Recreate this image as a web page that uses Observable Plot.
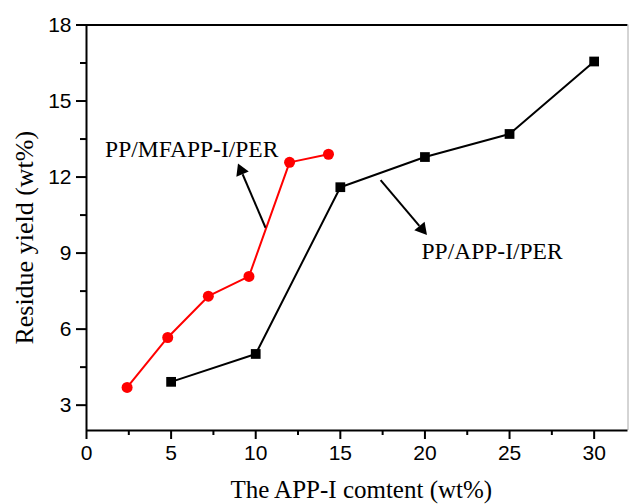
<!DOCTYPE html>
<html>
<head>
<meta charset="utf-8">
<script src="https://cdn.jsdelivr.net/npm/d3@7"></script>
<script src="https://cdn.jsdelivr.net/npm/@observablehq/plot@0.6"></script>
<style>
  html, body { margin: 0; padding: 0; background: #fff; }
  #chart svg { display: block; }
</style>
</head>
<body>
<div id="chart"></div>
<script>
// Series: PP/MFAPP-I/PER (red circles)
const mfContent = [2.4, 4.8, 7.2, 9.6, 12.0, 14.3];
const mfResidue = [3.7, 5.67, 7.3, 8.08, 12.58, 12.9];
// Series: PP/APP-I/PER (black squares)
const appContent = [5, 10, 15, 20, 25, 30];
const appResidue = [3.92, 5.02, 11.6, 12.79, 13.7, 16.56];

const seriesNames = ["PP/MFAPP-I/PER", "PP/APP-I/PER"];
// annotation arrows (data units): start -> tip
const arrowX1 = [10.58, 17.38];
const arrowY1 = [10.0, 11.88];
const arrowX2 = [8.97, 20.09];
const arrowY2 = [12.51, 9.74];
// label anchor points (data units)
const labelX = [1.1, 19.8];
const labelY = [13.1, 9.06];

const xTicks = [0, 5, 10, 15, 20, 25, 30];
const xMinor = [2.5, 7.5, 12.5, 17.5, 22.5, 27.5];
const yTicks = [3, 6, 9, 12, 15, 18];
const yMinor = [4.5, 7.5, 10.5, 13.5, 16.5];

const xTitle = "The APP-I comtent (wt%)";
const yTitle = "Residue yield (wt%)";

const W = 634, H = 504, mL = 86, mT = 24.5, mB = 74, mR = 6.5;
const xDomain = [0, 32], yDomain = [2, 18];
// pixels per data unit, used only to orient the arrowheads
const kx = (W - mL - mR) / (xDomain[1] - xDomain[0]);
const ky = (H - mT - mB) / (yDomain[1] - yDomain[0]);

const mf = mfContent.map((x, i) => ({x, y: mfResidue[i]}));
const app = appContent.map((x, i) => ({x, y: appResidue[i]}));
const headBack = 7; // px from tip to triangle centre
const arrows = arrowX1.map((x1, i) => {
  const x2 = arrowX2[i], y2 = arrowY2[i], y1 = arrowY1[i];
  const sx = (x2 - x1) * kx, sy = -(y2 - y1) * ky;
  const len = Math.hypot(sx, sy);
  const ux = sx / len, uy = sy / len;
  const hx = x2 - ux * headBack / kx, hy = y2 + uy * headBack / ky;
  const bx = x2 - ux * 11 / kx, by = y2 + uy * 11 / ky;
  return {x1, y1, x2, y2, hx, hy, bx, by, rot: Math.atan2(sx, -sy) * 180 / Math.PI};
});
const labels = seriesNames.map((t, i) => ({t, x: labelX[i], y: labelY[i]}));

const serif = "'Liberation Serif', 'Times New Roman', serif";
const sans = "'Liberation Sans', Arial, sans-serif";

const plot = Plot.plot({
  width: W,
  height: H,
  marginLeft: mL,
  marginTop: mT,
  marginBottom: mB,
  marginRight: mR,
  style: {fontFamily: sans, fontSize: "21px", color: "#000", background: "#fff"},
  x: {domain: xDomain},
  y: {domain: yDomain},
  marks: [
    // frame
    Plot.ruleY([18], {stroke: "#000", strokeWidth: 2}),
    Plot.ruleX([32], {stroke: "#aaa", strokeWidth: 1}),
    Plot.ruleX([0], {stroke: "#000", strokeWidth: 2}),
    Plot.ruleY([2], {stroke: "#000", strokeWidth: 2}),
    // axes
    Plot.axisX(xTicks, {tickSize: 9, tickPadding: 6, strokeWidth: 2, fontSize: 21, fontFamily: sans, label: null}),
    Plot.axisX(xMinor, {tickSize: 5, strokeWidth: 2, text: null, label: null}),
    Plot.axisY(yTicks, {tickSize: 10, tickPadding: 5, strokeWidth: 2, fontSize: 21, fontFamily: sans, label: null}),
    Plot.axisY(yMinor, {tickSize: 6, strokeWidth: 2, text: null, label: null}),
    // axis titles
    Plot.text([xTitle], {frameAnchor: "bottom", textAnchor: "middle", lineAnchor: "bottom", dy: 67, dx: 4, fontSize: 25, fontFamily: serif, fill: "#000"}),
    Plot.text([yTitle], {frameAnchor: "left", textAnchor: "middle", rotate: -90, dx: -62, dy: 10, fontSize: 26, fontFamily: serif, fill: "#000"}),
    // series
    Plot.line(mf, {x: "x", y: "y", stroke: "#ff0000", strokeWidth: 2}),
    Plot.dot(mf, {x: "x", y: "y", r: 5.5, fill: "#ff0000", stroke: "none"}),
    Plot.line(app, {x: "x", y: "y", stroke: "#000", strokeWidth: 2}),
    Plot.dot(app, {x: "x", y: "y", symbol: "square", r: 5.5, fill: "#000", stroke: "none"}),
    // annotations
    Plot.link(arrows, {x1: "x1", y1: "y1", x2: "bx", y2: "by", stroke: "#000", strokeWidth: 2}),
    Plot.dot(arrows, {x: "hx", y: "hy", symbol: "triangle", rotate: "rot", r: 5, fill: "#000", stroke: "none"}),
    Plot.text(labels, {x: "x", y: "y", text: "t", textAnchor: "start", fontSize: 23.5, fontFamily: serif, fill: "#000"})
  ]
});
document.getElementById("chart").appendChild(plot);
</script>
</body>
</html>
